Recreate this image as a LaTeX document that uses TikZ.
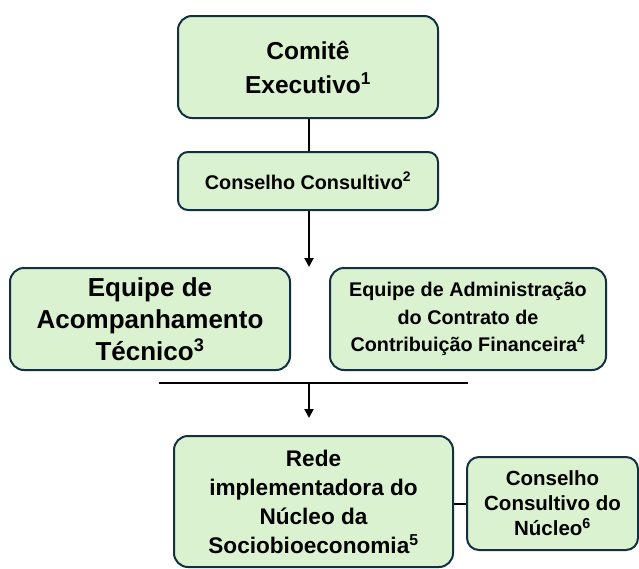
\documentclass[tikz,border=0pt]{standalone}
\usepackage{fontspec}
\setmainfont{Liberation Sans}
\usetikzlibrary{arrows.meta}
\definecolor{boxfill}{HTML}{DAF2D0}
\definecolor{boxline}{HTML}{12303F}
\tikzset{
  orgbox/.style={draw=boxline, fill=boxfill, line width=2pt, rounded corners=14pt,
    align=center, inner sep=0pt, font=\bfseries, text=black},
  conn/.style={draw=black, line width=2pt},
  arr/.style={conn, -{Triangle[width=9pt,length=9pt]}}
}
\newcommand{\sups}[1]{\textsuperscript{#1}}
\begin{document}
\begin{tikzpicture}[x=1pt,y=-1pt]
\useasboundingbox (0,0) rectangle (639,568);
\node[orgbox, minimum width=260pt, minimum height=102pt, font=\bfseries\fontsize{24.5}{34}\selectfont] (ce) at (308,67) {Comitê\\Executivo\sups{1}};
\node[orgbox, rounded corners=10pt, minimum width=260pt, minimum height=58pt, font=\bfseries\fontsize{19.8}{24}\selectfont] (cc) at (308,181) {Conselho Consultivo\sups{2}};
\node[orgbox, minimum width=280pt, minimum height=102pt, font=\bfseries\fontsize{26}{32}\selectfont] (eat) at (150,319) {Equipe de\\Acompanhamento\\Técnico\sups{3}};
\node[orgbox, minimum width=276pt, minimum height=102pt, font=\bfseries\fontsize{19.8}{27.5}\selectfont] (ead) at (468,319) {Equipe de Administração\\do Contrato de\\Contribuição Financeira\sups{4}};
\node[orgbox, minimum width=279pt, minimum height=131pt, font=\bfseries\fontsize{22.6}{29}\selectfont] (rede) at (313.5,501.5) {Rede\\implementadora do\\Núcleo da\\Sociobioeconomia\sups{5}};
\node[orgbox, rounded corners=12pt, minimum width=171pt, minimum height=93pt, font=\bfseries\fontsize{20.5}{25}\selectfont] (ccn) at (552.5,503.5) {Conselho\\Consultivo do\\Núcleo\sups{6}};
\coordinate (tip1) at (309,267);
\coordinate (barL) at (159,383);
\coordinate (barR) at (468,383);
\coordinate (barM) at (309,383);
\coordinate (tip2) at (309,418);
\draw[conn] (ce.south -| barM) -- (cc.north -| barM);
\draw[arr] (cc.south -| barM) -- (tip1);
\draw[conn] (barL) -- (barR);
\draw[arr] (barM) -- (tip2);
\draw[conn] (ccn.west) -- (ccn.west -| rede.east);
\end{tikzpicture}
\end{document}
